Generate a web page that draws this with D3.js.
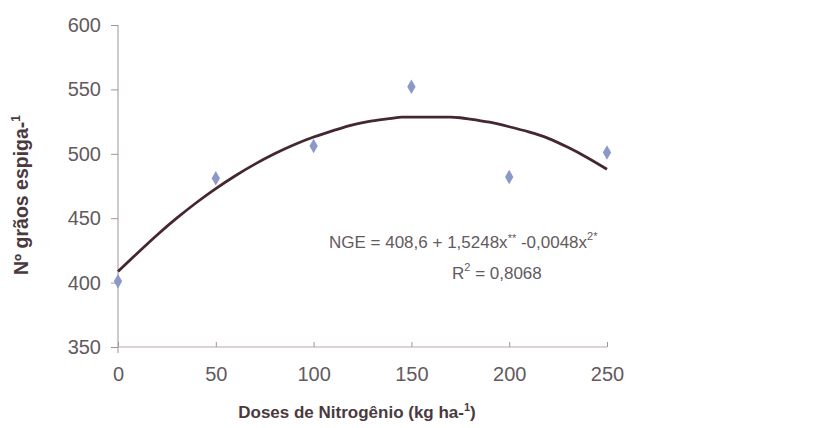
<!DOCTYPE html>
<html><head><meta charset="utf-8">
<script src="https://cdn.jsdelivr.net/npm/d3@7"></script>
<style>body{margin:0;background:#fff;}svg{display:block;font-family:"Liberation Sans",Arial,sans-serif;}</style>
</head><body>
<svg id="c" width="813" height="428"></svg>
<script>
const doses = [0, 50, 100, 150, 200, 250];
const graos = [401, 481, 506, 552, 482, 501];
const fitX = [0,10,20,30,40,50,60,70,80,90,100,110,120,130,140,145,150,160,170,175,180,190,200,210,220,230,240,250];
const fitY = [408.6,423,437,450,462,473,483,492,500,507,513,518,522.5,525.5,527.5,528.5,528.5,528.5,528.5,528,527,524.5,521,517,512,505,497,488];
const xTicks = [0, 50, 100, 150, 200, 250];
const yTicks = [350, 400, 450, 500, 550, 600];

const svg = d3.select("#c");
const x = d3.scaleLinear().domain([0, 250]).range([118, 607]);
const y = d3.scaleLinear().domain([350, 600]).range([347, 25]);
const axisCol = "#a09498", txtCol = "#635a5e";

// y axis
const ya = svg.append("g").attr("transform", "translate(118,0)")
  .call(d3.axisLeft(y).tickValues(yTicks).tickSize(7).tickPadding(10));
ya.select(".domain").remove();
ya.append("line").attr("x1",0).attr("x2",0).attr("y1",y(600)).attr("y2",353).attr("stroke",axisCol);
ya.selectAll(".tick line").attr("stroke", axisCol);
ya.selectAll("text").attr("fill", txtCol).style("font-size","20px").attr("font-family","'Liberation Sans',Arial,sans-serif");

// x axis
const xa = svg.append("g").attr("transform", "translate(0,347)")
  .call(d3.axisBottom(x).tickValues(xTicks).tickSize(-5).tickPadding(20));
xa.select(".domain").remove();
xa.append("line").attr("x1",x(0)).attr("x2",x(250)).attr("y1",0).attr("y2",0).attr("stroke","#b8a8a0");
xa.selectAll(".tick line").attr("stroke", axisCol);
xa.selectAll("text").attr("fill", txtCol).style("font-size","20px").attr("font-family","'Liberation Sans',Arial,sans-serif");

// fitted curve
const line = d3.line().x((d,i)=>x(fitX[i])).y(d=>y(d)).curve(d3.curveMonotoneX);
svg.append("path").datum(fitY).attr("d", line).attr("fill","none")
  .attr("stroke","#45282f").attr("stroke-width",2.8);

// points
svg.selectAll(".pt").data(graos).enter().append("path")
  .attr("d", d3.symbol(d3.symbolDiamond, 60))
  .attr("transform",(d,i)=>`translate(${x(doses[i])},${y(d)})`)
  .attr("fill","#8c98c8");

// equation
const eq = svg.append("text").attr("x",329).attr("y",248).attr("fill",txtCol).style("font-size","17px");
eq.append("tspan").text("NGE = 408,6 + 1,5248x");
eq.append("tspan").attr("dy",-6).style("font-size","11px").text("**");
eq.append("tspan").attr("dy",6).text(" -0,0048x");
eq.append("tspan").attr("dy",-8).style("font-size","11px").text("2*");
const r2 = svg.append("text").attr("x",452).attr("y",279).attr("fill",txtCol).style("font-size","17px");
r2.append("tspan").text("R");
r2.append("tspan").attr("dy",-8).style("font-size","11px").text("2");
r2.append("tspan").attr("dy",8).text(" = 0,8068");

// axis titles
const xt = svg.append("text").attr("x",357).attr("y",418).attr("text-anchor","middle")
  .attr("fill","#4a3a3e").style("font-size","17px").style("font-weight","bold");
xt.append("tspan").text("Doses de Nitrogênio (kg ha-");
xt.append("tspan").attr("dy",-7).style("font-size","11px").text("1");
xt.append("tspan").attr("dy",7).text(")");
const yt = svg.append("text").attr("transform","translate(28,195) rotate(-90)").attr("text-anchor","middle")
  .attr("fill","#4a3a3e").style("font-size","19.5px").style("font-weight","bold");
yt.append("tspan").text("Nº grãos espiga-");
yt.append("tspan").attr("dy",-8).style("font-size","12px").text("1");
</script>
</body></html>
